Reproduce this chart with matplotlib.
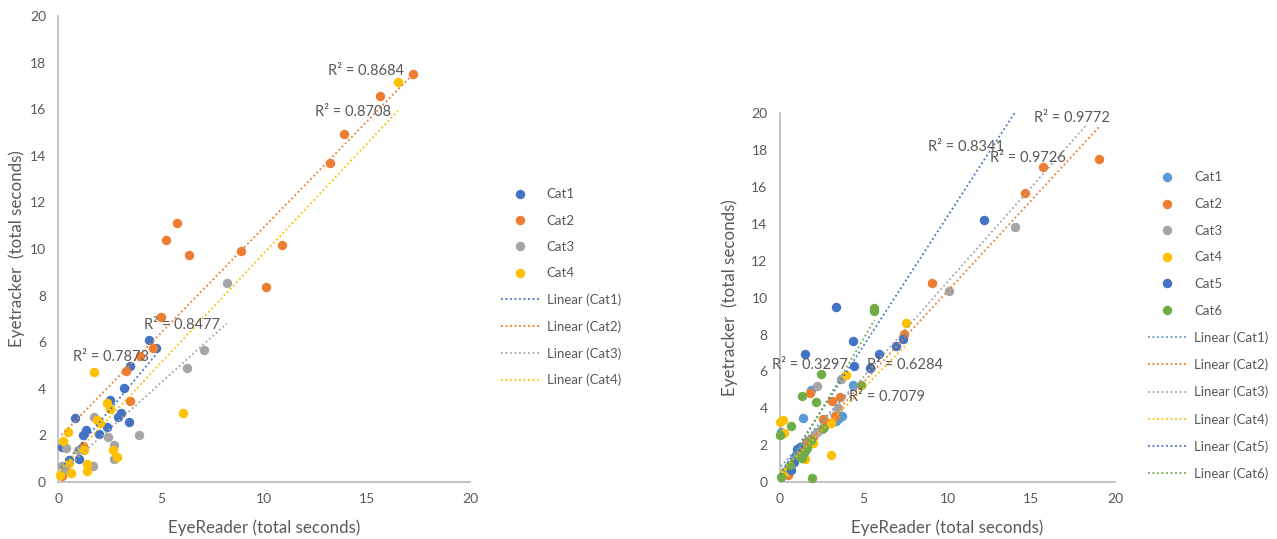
import matplotlib
matplotlib.use("Agg")
import matplotlib.pyplot as plt
from matplotlib.lines import Line2D
import numpy as np

plt.rcParams['font.family'] = ['Lato', 'DejaVu Sans']

# ---------------- data: left chart ----------------
L_cats = ["Cat1", "Cat2", "Cat3", "Cat4"]
L_colors = ["#4472C4", "#ED7D31", "#A5A5A5", "#FFC000"]
L_cat1_x = [4.39, 4.73, 3.49, 3.18, 2.48, 0.80, 3.03, 2.87, 3.41, 2.34, 1.33, 1.20, 1.97, 0.15, 1.00, 0.50]
L_cat1_y = [6.08, 5.74, 4.99, 4.02, 3.52, 2.76, 2.95, 2.79, 2.58, 2.35, 2.23, 2.03, 2.04, 1.52, 0.99, 0.94]
L_cat2_x = [17.22, 15.62, 13.89, 13.19, 5.75, 5.22, 6.32, 8.89, 10.88, 10.07, 4.98, 4.57, 3.96, 3.28, 3.49, 1.18, 0.15]
L_cat2_y = [17.52, 16.57, 14.94, 13.68, 11.13, 10.39, 9.74, 9.91, 10.16, 8.37, 7.10, 5.75, 5.42, 4.78, 3.49, 1.56, 0.24]
L_cat3_x = [8.18, 7.08, 6.25, 1.72, 3.91, 2.40, 2.68, 0.36, 0.93, 2.69, 1.66, 0.15, 0.35]
L_cat3_y = [8.53, 5.68, 4.91, 2.80, 2.00, 1.92, 1.58, 1.45, 1.37, 0.99, 0.70, 0.67, 0.50]
L_cat4_x = [16.50, 1.72, 2.34, 2.50, 6.06, 1.88, 2.03, 0.45, 0.23, 1.23, 2.63, 2.83, 0.52, 1.37, 1.37, 0.60, 0.07]
L_cat4_y = [17.17, 4.71, 3.40, 3.12, 2.95, 2.66, 2.55, 2.14, 1.74, 1.38, 1.38, 1.06, 0.82, 0.77, 0.48, 0.40, 0.31]
# linear trendlines (slope, intercept, x-range)
L_slope = [1.06, 0.907, 0.795, 0.939]
L_icpt = [0.45, 1.88, 0.30, 0.44]
L_tx0 = [0.15, 0.15, 0.15, 0.07]
L_tx1 = [4.73, 17.22, 8.18, 16.50]
L_r2_text = ["R² = 0.8684", "R² = 0.8708", "R² = 0.8477", "R² = 0.7873"]
L_r2_x = [14.96, 14.31, 5.98, 2.53]
L_r2_y = [17.65, 15.90, 6.74, 5.35]

# ---------------- data: right chart ----------------
R_cats = ["Cat1", "Cat2", "Cat3", "Cat4", "Cat5", "Cat6"]
R_colors = ["#5B9BD5", "#ED7D31", "#A5A5A5", "#FFC000", "#4472C4", "#70AD47"]
R_cat1_x = [4.37, 1.83, 1.39, 3.73, 3.37, 0.05, 3.55, 1.50, 0.90]
R_cat1_y = [5.26, 4.99, 3.49, 3.60, 3.33, 2.70, 3.45, 1.70, 1.40]
R_cat2_x = [19.03, 15.71, 14.62, 9.07, 7.40, 1.79, 3.57, 3.08, 3.27, 2.54, 2.60, 1.98, 1.60, 0.50]
R_cat2_y = [17.51, 17.06, 15.65, 10.80, 8.01, 4.85, 4.60, 4.39, 3.58, 3.42, 3.00, 2.46, 2.20, 0.40]
R_cat3_x = [14.01, 10.08, 3.65, 2.22, 3.47, 2.18, 2.50, 1.20, 0.30]
R_cat3_y = [13.85, 10.38, 5.57, 5.21, 4.03, 2.70, 2.90, 1.40, 0.60]
R_cat4_x = [7.54, 3.97, 3.04, 0.00, 0.16, 0.22, 1.98, 3.04, 1.51, 0.30]
R_cat4_y = [8.65, 5.81, 3.22, 3.27, 3.36, 2.64, 2.12, 1.47, 1.23, 0.55]
R_cat5_x = [12.20, 3.35, 7.34, 4.35, 6.94, 1.49, 5.89, 4.40, 5.40, 0.99, 1.19, 0.85, 0.65]
R_cat5_y = [14.23, 9.48, 7.76, 7.65, 7.38, 6.93, 6.93, 6.29, 6.17, 1.77, 1.91, 1.08, 0.67]
R_cat6_x = [5.64, 5.60, 2.44, 4.86, 1.31, 2.14, 2.58, 0.64, 0.00, 1.85, 1.61, 1.39, 1.19, 1.29, 0.60, 0.04, 1.89]
R_cat6_y = [9.44, 9.28, 5.88, 5.26, 4.67, 4.36, 2.91, 3.06, 2.55, 2.28, 1.83, 1.50, 1.35, 1.29, 0.92, 0.27, 0.22]
R_slope = [1.00, 0.985, 1.027, 0.92, 1.40, 1.54]
R_icpt = [0.80, 0.50, 0.58, 0.50, 0.41, 0.10]
R_tx0 = [0.05, 0.50, 0.30, 0.00, 0.00, 0.00]
R_tx1 = [4.37, 19.03, 18.30, 7.54, 14.50, 5.64]
R_r2_text = ["R² = 0.8341", "R² = 0.9726", "R² = 0.9772", "R² = 0.3297", "R² = 0.6284", "R² = 0.7079"]
R_r2_x = [11.11, 14.78, 17.40, 1.79, 7.44, 6.39]
R_r2_y = [18.16, 17.56, 19.73, 6.35, 6.35, 4.63]

xticks = [0, 5, 10, 15, 20]
yticks = [0, 2, 4, 6, 8, 10, 12, 14, 16, 18, 20]
x_title = "EyeReader (total seconds)"
y_title = "Eyetracker  (total seconds)"

TXT = "#595959"
SPINE = "#BFBFBF"
W, H = 1277, 539
fig = plt.figure(figsize=(W / 100, H / 100), dpi=100)

def px_rect(x0, x1, ytop, ybot):
    return [x0 / W, 1 - ybot / H, (x1 - x0) / W, (ybot - ytop) / H]

DOT = (0, (1, 1.5))
MS = 6.8

def style_ax(ax, ylabelpad):
    ax.set_xlim(0, 20)
    ax.set_ylim(0, 20)
    ax.set_xticks(xticks)
    ax.set_yticks(yticks)
    for s in ["top", "right"]:
        ax.spines[s].set_visible(False)
    for s in ["left", "bottom"]:
        ax.spines[s].set_color(SPINE)
        ax.spines[s].set_linewidth(1.3)
    ax.tick_params(length=0, labelsize=10, labelcolor=TXT)
    ax.tick_params(axis="y", pad=9)
    ax.tick_params(axis="x", pad=8)
    ax.set_xlabel(x_title, fontsize=12.2, color=TXT, labelpad=10)
    ax.set_ylabel(y_title, fontsize=12.2, color=TXT, labelpad=ylabelpad)

def draw(ax, xs, ys, colors, slopes, icpts, tx0, tx1, r2t, r2x, r2y):
    for x, y, c in zip(xs, ys, colors):
        ax.plot(x, y, "o", color=c, ms=MS, mew=0, zorder=3, clip_on=False)
    for c, m, b, a0, a1 in zip(colors, slopes, icpts, tx0, tx1):
        tx = np.array([a0, a1])
        ax.plot(tx, m * tx + b, ls=DOT, color=c, lw=1.3, zorder=4)
    for t, x, y in zip(r2t, r2x, r2y):
        ax.text(x, y, t, fontsize=10.5, color=TXT, ha="center", va="center", zorder=5)

def legend(ax, cats, colors, x_left, y_top, spacing):
    handles = [Line2D([], [], ls="none", marker="o", color=c, ms=MS, mew=0) for c in colors]
    handles += [Line2D([], [], ls=DOT, color=c, lw=1.3) for c in colors]
    labels = list(cats) + ["Linear (%s)" % c for c in cats]
    fig.legend(handles, labels, loc="upper left",
               bbox_to_anchor=(x_left / W, 1 - y_top / H), frameon=False,
               fontsize=9.5, labelcolor=TXT, handlelength=2.95, handletextpad=0.55,
               labelspacing=spacing, borderpad=0, borderaxespad=0)

axL = fig.add_axes(px_rect(58.5, 470, 16, 482))
style_ax(axL, 3.5)
draw(axL, [L_cat1_x, L_cat2_x, L_cat3_x, L_cat4_x], [L_cat1_y, L_cat2_y, L_cat3_y, L_cat4_y],
     L_colors, L_slope, L_icpt, L_tx0, L_tx1, L_r2_text, L_r2_x, L_r2_y)
legend(axL, L_cats, L_colors, 500.5, 188.5, 1.08)

axR = fig.add_axes(px_rect(780, 1115, 113.3, 482))
style_ax(axR, 9.5)
draw(axR, [R_cat1_x, R_cat2_x, R_cat3_x, R_cat4_x, R_cat5_x, R_cat6_x],
     [R_cat1_y, R_cat2_y, R_cat3_y, R_cat4_y, R_cat5_y, R_cat6_y],
     R_colors, R_slope, R_icpt, R_tx0, R_tx1, R_r2_text, R_r2_x, R_r2_y)
legend(axR, R_cats, R_colors, 1148, 171.5, 1.11)

fig.savefig("out.png", dpi=100, facecolor="white")
